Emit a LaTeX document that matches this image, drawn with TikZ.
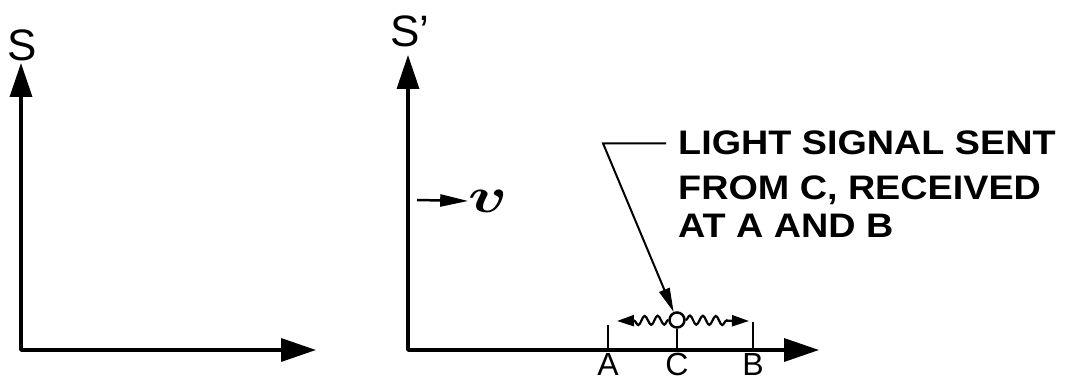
\documentclass[tikz,border=0pt]{standalone}
\usepackage{fontspec}
\usepackage{bm}
\setmainfont{Liberation Sans}
\usetikzlibrary{arrows.meta,decorations.pathmorphing,calc}
\begin{document}
\begin{tikzpicture}[x=1pt,y=-1pt,
  axisline/.style={line width=3.5pt, line join=round,
    {Triangle[length=34pt,width=22pt]}-{Triangle[length=35pt,width=23pt]}},
  tick/.style={line width=2.5pt},
  wave/.style={line width=2.2pt, -{Triangle[length=17pt,width=11pt]},
    decorate, decoration={snake, segment length=13pt, amplitude=4.5pt, post length=17pt}},
  axlabel/.style={font=\fontsize{44}{44}\selectfont, inner sep=0pt},
  ptlabel/.style={font=\fontsize{32}{32}\selectfont, inner sep=0pt, anchor=base},
  note/.style={font=\fontsize{34}{34}\selectfont\bfseries, inner sep=0pt, anchor=base west},
]
\useasboundingbox (0,0) rectangle (1068,382);
% left frame S
\coordinate (O1) at (21,350);
\coordinate (Y1) at (21,63);
\coordinate (X1) at (316,350);
\draw[axisline] (Y1) -- (O1) -- (X1);
\node[axlabel] (S) at (22,45) {S};
% right frame S'
\coordinate (O2) at (408,350);
\coordinate (Y2) at (408,55);
\coordinate (X2) at (819,350);
\draw[axisline] (Y2) -- (O2) -- (X2);
\node[axlabel] (Sp) at (410,31) {S'};
% velocity
\coordinate (v0) at (417,200);
\node[inner sep=0pt] (v) at (488,201) {\scalebox{6.5}[5]{$\bm{v}$}};
\draw[line width=2.5pt, -{Triangle[length=28pt,width=12pt]}] (v0) -- (v.west);
% ticks and points
\coordinate (Atop) at (608,325);
\coordinate (Abot) at (608,350);
\coordinate (Btop) at (753,322);
\coordinate (Bbot) at (753,350);
\coordinate (Cbot) at (677,350);
\draw[tick] (Atop) -- (Abot);
\draw[tick] (Btop) -- (Bbot);
\node[circle, draw, line width=2.5pt, minimum size=15pt, inner sep=0pt, fill=white] (C) at (677,320) {};
\draw[tick] (C.south) -- (Cbot);
\node[ptlabel] (A) at (608,375) {A};
\node[ptlabel] (Cl) at (677,375) {C};
\node[ptlabel] (B) at (753,375) {B};
% light signals
\coordinate (wl) at (617,321);
\coordinate (wr) at (749,321);
\draw[wave] (C.west) -- (wl);
\draw[wave] (C.east) -- (wr);
% annotation
\node[note] (L1) at (678,155) {\scalebox{1.11}[1]{LIGHT SIGNAL SENT}};
\node[note] (L2) at (678,200) {\scalebox{1.11}[1]{FROM C, RECEIVED}};
\node[note] (L3) at (678,237) {\scalebox{1.11}[1]{AT A AND B}};
\coordinate (lstart) at ($(L1.west)+(-12,0)$);
\coordinate (cx) at (603,0);
\coordinate (corner) at (cx |- L1.west);
\draw[line width=2pt, -{Triangle[length=24pt,width=11pt]}] (lstart) -- (corner) -- (C);
\end{tikzpicture}
\end{document}
